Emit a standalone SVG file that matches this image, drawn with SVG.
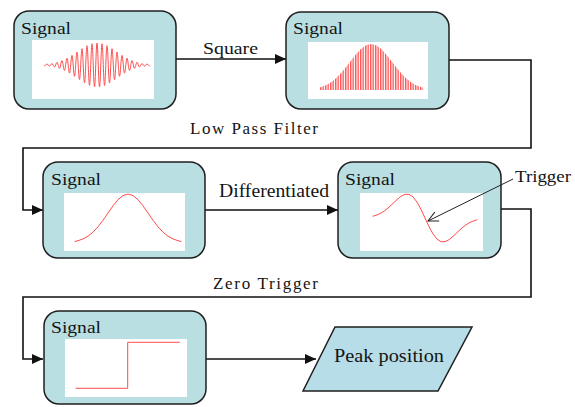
<svg xmlns="http://www.w3.org/2000/svg" width="575" height="407" viewBox="0 0 575 407">
  <style>
    .box { fill: #b9dfe3; stroke: #1f1f1f; stroke-width: 1.5; }
    .plot { fill: #ffffff; }
    .wave { fill: none; stroke: #ff4d4d; stroke-width: 1; stroke-linejoin: round; stroke-linecap: round; }
    .lbl { fill: #141414; font-family: "Times New Roman", Tinos, "Liberation Serif", "DejaVu Serif", "Noto Serif", FreeSerif, serif; font-size: 17px; }
    .wire { fill: none; stroke: #111; stroke-width: 1.6; }
    .pointer { fill: none; stroke: #222; stroke-width: 1; }
  </style>
  <defs>
    <marker id="head" markerUnits="userSpaceOnUse" markerWidth="12" markerHeight="10" refX="11" refY="5" orient="auto">
      <path d="M0,0 L11,5 L0,10 Z" fill="#111"/>
    </marker>
    <marker id="open" markerUnits="userSpaceOnUse" markerWidth="12" markerHeight="12" refX="11" refY="6" orient="auto">
      <path d="M1,1 L11,6 L1,11" fill="none" stroke="#222" stroke-width="1"/>
    </marker>
    <pattern id="stripes" patternUnits="userSpaceOnUse" width="2.5" height="10">
      <rect x="0" y="0" width="1.4" height="10" fill="#ff4040"/>
    </pattern>
  </defs>

  <!-- connectors -->
  <g id="connectors">
    <path class="wire" d="M176,59 L286,59" marker-end="url(#head)"/>
    <path class="wire" d="M449,60 L531,60 L531,148 L23,148 L23,210 L43,210" marker-end="url(#head)"/>
    <path class="wire" d="M205,210 L338,210" marker-end="url(#head)"/>
    <path class="wire" d="M501,209 L531,209 L531,297 L23,297 L23,359 L43,359" marker-end="url(#head)"/>
    <path class="wire" d="M205,359 L316,359" marker-end="url(#head)"/>
    <text class="lbl" x="203" y="54" textLength="55" lengthAdjust="spacingAndGlyphs">Square</text>
    <text class="lbl" x="190" y="134" textLength="128" lengthAdjust="spacing">Low Pass Filter</text>
    <text class="lbl" x="219" y="197" style="font-size:18px" textLength="110" lengthAdjust="spacingAndGlyphs">Differentiated</text>
    <text class="lbl" x="213" y="289" textLength="105" lengthAdjust="spacing">Zero Trigger</text>
  </g>

  <!-- raw burst -->
  <g id="node-raw">
    <rect class="box" x="14" y="11" width="162" height="98" rx="15"/>
    <rect class="plot" x="32" y="40" width="122" height="59"/>
    <text class="lbl" x="21" y="34" textLength="50" lengthAdjust="spacingAndGlyphs">Signal</text>
    <path class="wave" d="M44.5,66 C45.4,66 46.1,64 47,64 S48.6,66.1 49.5,66.1 S51.1,63.5 52,63.5 S53.6,67 54.5,67 S56.1,62.3 57,62.3 S58.6,68.4 59.5,68.4 S61.1,60.6 62,60.6 S63.6,70.4 64.5,70.4 S66.1,58.3 67,58.3 S68.6,73.1 69.5,73.1 S71.1,55.4 72,55.4 S73.6,76.3 74.5,76.3 S76.1,52 77,52 S78.6,79.7 79.5,79.7 S81.1,48.7 82,48.7 S83.6,82.9 84.5,82.9 S86.1,45.7 87,45.7 S88.6,85.4 89.5,85.4 S91.1,43.7 92,43.7 S93.6,86.8 94.5,86.8 S96.1,43 97,43 S98.6,86.8 99.5,86.8 S101.1,43.7 102,43.7 S103.6,85.4 104.5,85.4 S106.1,45.7 107,45.7 S108.6,82.9 109.5,82.9 S111.1,48.7 112,48.7 S113.6,79.7 114.5,79.7 S116.1,52 117,52 S118.6,76.3 119.5,76.3 S121.1,55.4 122,55.4 S123.6,73.1 124.5,73.1 S126.1,58.3 127,58.3 S128.6,70.4 129.5,70.4 S131.1,60.6 132,60.6 S133.6,68.4 134.5,68.4 S136.1,62.3 137,62.3 S138.6,67 139.5,67 S141.1,63.5 142,63.5 S143.6,66.1 144.5,66.1 S146.1,64 147,64 S148.6,66 149.5,66"/>
  </g>

  <!-- squared burst -->
  <g id="node-squared">
    <rect class="box" x="286" y="12" width="163" height="97" rx="15"/>
    <rect class="plot" x="308" y="42" width="120" height="57"/>
    <text class="lbl" x="293" y="34" textLength="50" lengthAdjust="spacingAndGlyphs">Signal</text>
    <path fill="url(#stripes)" opacity="0.9" d="M319,90 L319,87.7 L321,87.1 L326,85.2 L331,82.2 L336,78.2 L341,73.1 L346,67 L351,60.5 L356,54.2 L361,48.8 L366,45.3 L371,44 L376,45.3 L381,48.8 L386,54.2 L391,60.5 L396,67 L401,73.1 L406,78.2 L411,82.2 L416,85.2 L421,87.1 L423,87.7 L423,90 Z"/>
  </g>

  <!-- smoothed envelope -->
  <g id="node-envelope">
    <rect class="box" x="43" y="162" width="162" height="96" rx="15"/>
    <rect class="plot" x="64" y="193" width="121" height="58"/>
    <text class="lbl" x="51" y="185" textLength="50" lengthAdjust="spacingAndGlyphs">Signal</text>
    <polyline class="wave" points="75,241.5 78,240.7 83,238.9 88,236.2 93,232.2 98,226.8 103,220.3 108,213 113,205.9 118,199.7 123,195.5 128,194 133,195.5 138,199.7 143,205.9 148,213 153,220.3 158,226.8 163,232.2 168,236.2 173,238.9 178,240.7 181,241.5"/>
  </g>

  <!-- derivative -->
  <g id="node-derivative">
    <rect class="box" x="338" y="162" width="163" height="96" rx="15"/>
    <rect class="plot" x="360" y="193" width="123" height="58"/>
    <text class="lbl" x="345" y="185" textLength="50" lengthAdjust="spacingAndGlyphs">Signal</text>
    <polyline class="wave" points="373,216.2 377,214.9 381,213.1 385,210.5 389,207.2 393,203.4 397,199.6 401,196.3 405,194.3 409,194.3 413,196.9 417,202.1 421,209.4 425,218 429,226.6 433,233.9 437,239.1 441,241.7 445,241.7 449,239.7 453,236.4 457,232.6 461,228.8 465,225.5 469,222.9 473,221.1 477,219.8"/>
  </g>

  <!-- trigger callout -->
  <g id="note-trigger">
    <path class="pointer" d="M513,179 L428,221" marker-end="url(#open)"/>
    <text class="lbl" x="515" y="182" textLength="56" lengthAdjust="spacingAndGlyphs">Trigger</text>
  </g>

  <!-- step output -->
  <g id="node-step">
    <rect class="box" x="44" y="311" width="162" height="93" rx="15"/>
    <rect class="plot" x="65" y="339" width="122" height="58"/>
    <text class="lbl" x="51" y="333" textLength="50" lengthAdjust="spacingAndGlyphs">Signal</text>
    <polyline class="wave" points="76,388.3 127.7,388.3 127.7,342.3 179.3,342.3"/>
  </g>

  <!-- result -->
  <g id="node-peak">
    <polygon points="335,327 472,327 438,391 303,391" fill="#b7dde8" stroke="#1f1f1f" stroke-width="1.5"/>
    <text class="lbl" style="font-size:18px" x="334" y="362" textLength="110" lengthAdjust="spacingAndGlyphs">Peak position</text>
  </g>
</svg>
